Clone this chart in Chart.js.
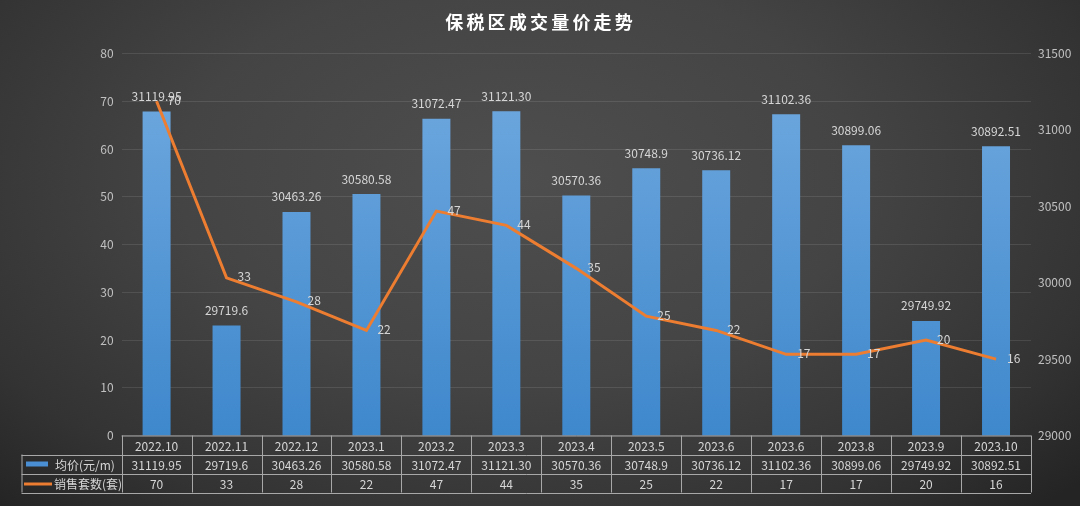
<!DOCTYPE html>
<html>
<head>
<meta charset="utf-8">
<script src="https://cdn.jsdelivr.net/npm/chart.js@4/dist/chart.umd.min.js"></script>
<style>
  html, body { margin: 0; padding: 0; }
  body {
    width: 1080px; height: 506px; overflow: hidden;
    background: radial-gradient(ellipse 70% 90% at 48% 35%, #4e4e4e 0%, #444 45%, #333 80%, #242424 100%);
  }
  #wrap { position: relative; width: 1080px; height: 506px; }
</style>
</head>
<body>
<div id="wrap"><canvas id="chart" width="1080" height="506"></canvas></div>
<script>
/* ── DATA ───────────────────────────────────────────────────────────── */
const months     = ['2022.10','2022.11','2022.12','2023.1','2023.2','2023.3','2023.4','2023.5','2023.6','2023.6','2023.8','2023.9','2023.10'];
const priceVals  = [31119.95, 29719.6, 30463.26, 30580.58, 31072.47, 31121.30, 30570.36, 30748.9, 30736.12, 31102.36, 30899.06, 29749.92, 30892.51];
const priceText  = ['31119.95','29719.6','30463.26','30580.58','31072.47','31121.30','30570.36','30748.9','30736.12','31102.36','30899.06','29749.92','30892.51'];
const salesVals  = [70, 33, 28, 22, 47, 44, 35, 25, 22, 17, 17, 20, 16];
const priceName  = '均价(元/m)';
const salesName  = '销售套数(套)';
const chartTitle = '保税区成交量价走势';

const FONT   = '"Microsoft YaHei","Noto Sans CJK SC","Noto Sans",sans-serif';
const TXT    = '#d6d6d6';
const ORANGE = '#ed7d31';

/* ── PLUGINS ────────────────────────────────────────────────────────── */
const titlePlugin = {
  id: 'titleText',
  afterDraw(chart) {
    const ctx = chart.ctx;
    ctx.save();
    ctx.font = `bold 18px ${FONT}`;
    ctx.fillStyle = '#ffffff';
    ctx.textBaseline = 'middle';
    const sp = 3.2;
    const chars = [...chartTitle];
    const w = chars.reduce((s, c) => s + ctx.measureText(c).width, 0) + sp * (chars.length - 1);
    let x = 539 - w / 2;
    chars.forEach(c => { ctx.fillText(c, x, 22); x += ctx.measureText(c).width + sp; });
    ctx.restore();
  }
};

const labelPlugin = {
  id: 'valueLabels',
  afterDatasetsDraw(chart) {
    const ctx = chart.ctx;
    ctx.save();
    ctx.font = `12px ${FONT}`;
    ctx.fillStyle = TXT;
    ctx.textBaseline = 'middle';

    // bar labels, above the bars
    ctx.textAlign = 'center';
    chart.getDatasetMeta(0).data.forEach((b, i) => ctx.fillText(priceText[i], b.x, b.y - 15));

    // line labels, right of the points
    ctx.textAlign = 'left';
    chart.getDatasetMeta(1).data.forEach((p, i) => ctx.fillText(String(salesVals[i]), p.x + 11, p.y - 1));
    ctx.restore();
  }
};

const tablePlugin = {
  id: 'dataTable',
  afterDraw(chart) {
    const ctx = chart.ctx;
    const { left, right, bottom } = chart.chartArea;
    const x = chart.scales.x;
    const rowH = 19;
    const legL = 21.5;
    const cw = (right - left) / months.length;
    const r0 = bottom, r1 = r0 + rowH, r2 = r1 + rowH, r3 = r2 + rowH;

    ctx.save();
    ctx.strokeStyle = '#a8a8a8';
    ctx.lineWidth = 1;
    ctx.beginPath();
    // horizontal lines
    ctx.moveTo(left, r0 + .5);  ctx.lineTo(right, r0 + .5);
    [r1, r2, r3].forEach(y => { ctx.moveTo(legL, Math.round(y) + .5); ctx.lineTo(right, Math.round(y) + .5); });
    // vertical lines
    ctx.moveTo(legL + .5, r1); ctx.lineTo(legL + .5, r3);
    for (let i = 0; i <= months.length; i++) {
      const vx = Math.round(left + cw * i) + .5;
      ctx.moveTo(vx, r0); ctx.lineTo(vx, r3);
    }
    ctx.stroke();

    // cells
    ctx.font = `12px ${FONT}`;
    ctx.fillStyle = TXT;
    ctx.textAlign = 'center';
    ctx.textBaseline = 'middle';
    months.forEach((m, i) => {
      const cx = x.getPixelForValue(i);
      ctx.fillText(m, cx, r0 + rowH / 2 + 1);
      ctx.fillText(priceText[i], cx, r1 + rowH / 2 + 1);
      ctx.fillText(String(salesVals[i]), cx, r2 + rowH / 2 + 1);
    });

    // legend keys
    ctx.fillStyle = '#4a8fd4';
    ctx.fillRect(26, r1 + 7, 22, 5);
    ctx.strokeStyle = ORANGE;
    ctx.lineWidth = 3;
    ctx.beginPath();
    ctx.moveTo(24, r2 + rowH / 2 + 1); ctx.lineTo(52, r2 + rowH / 2 + 1);
    ctx.stroke();

    ctx.fillStyle = TXT;
    ctx.textAlign = 'left';
    ctx.font = `12px ${FONT}`;
    ctx.fillText(priceName, 55, r1 + rowH / 2 + 1);
    ctx.fillText(salesName, 54, r2 + rowH / 2 + 1);
    ctx.restore();
  }
};

/* ── CHART ──────────────────────────────────────────────────────────── */
function barFill(context) {
  const area = context.chart.chartArea;
  if (!area) return '#5b9bd5';
  const g = context.chart.ctx.createLinearGradient(0, area.top, 0, area.bottom);
  g.addColorStop(0, '#72aae0');
  g.addColorStop(1, '#3e88cc');
  return g;
}

const tickFont = { family: FONT, size: 12 };

new Chart(document.getElementById('chart'), {
  type: 'bar',
  data: {
    labels: months,
    datasets: [
      {
        type: 'bar', label: priceName, data: priceVals, yAxisID: 'y1',
        backgroundColor: barFill, barPercentage: 0.4, categoryPercentage: 1, order: 2,
      },
      {
        type: 'line', label: salesName, data: salesVals, yAxisID: 'y',
        borderColor: ORANGE, borderWidth: 3, pointRadius: 0, tension: 0, order: 1,
      },
    ],
  },
  options: {
    responsive: false, animation: false,
    layout: { padding: { top: 53.5, bottom: 70.5, left: 0, right: 0 } },
    plugins: { legend: { display: false }, tooltip: { enabled: false } },
    scales: {
      x: { display: false, offset: true },
      y: {
        position: 'left', min: 0, max: 80,
        ticks: { stepSize: 10, color: '#c0c0c0', font: tickFont, padding: 8 },
        grid: { color: 'rgba(255,255,255,0.10)', drawTicks: false },
        border: { display: false },
        afterFit: s => { s.width = 121.6; },
      },
      y1: {
        position: 'right', min: 29000, max: 31500,
        ticks: { stepSize: 500, color: '#c0c0c0', font: tickFont, padding: 7, callback: v => String(v) },
        grid: { display: false, drawTicks: false },
        border: { display: false },
        afterFit: s => { s.width = 49; },
      },
    },
  },
  plugins: [titlePlugin, labelPlugin, tablePlugin],
});
</script>
</body>
</html>
